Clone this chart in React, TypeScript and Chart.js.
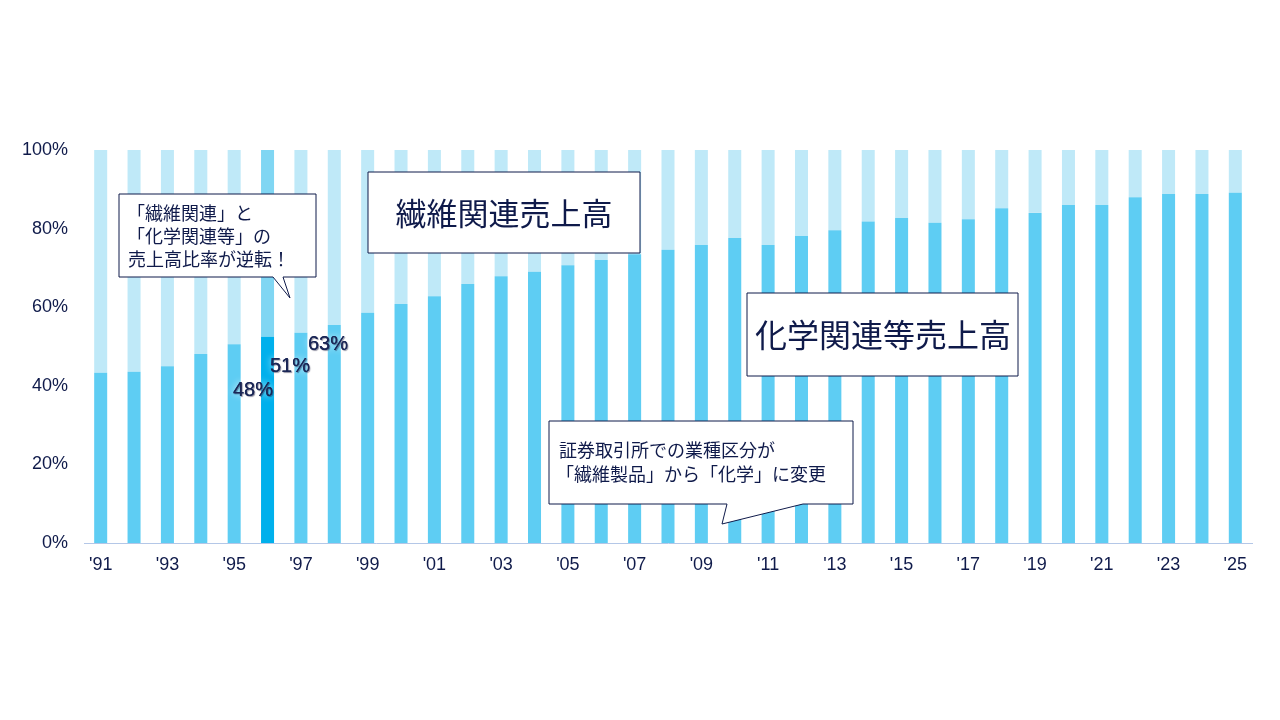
import React, { useEffect, useRef } from 'react';
import Chart from 'chart.js/auto';

const years = [
  "'91", "'92", "'93", "'94", "'95", "'96", "'97", "'98", "'99", "'00",
  "'01", "'02", "'03", "'04", "'05", "'06", "'07", "'08", "'09", "'10",
  "'11", "'12", "'13", "'14", "'15", "'16", "'17", "'18", "'19", "'20",
  "'21", "'22", "'23", "'24", "'25",
];

// 化学関連等売上高 share (%)
const chemShare = [
  43.3, 43.6, 45.0, 48.1, 50.6, 52.5, 53.5, 55.5, 58.6, 60.8,
  62.8, 65.9, 67.9, 69.0, 70.7, 72.0, 73.5, 74.6, 75.8, 77.6,
  75.8, 78.1, 79.6, 81.8, 82.7, 81.5, 82.4, 85.2, 84.0, 86.0,
  86.0, 88.0, 88.8, 88.8, 89.1,
];

// 繊維関連売上高 share (%)
const fiberShare = [
  56.7, 56.4, 55.0, 51.9, 49.4, 47.5, 46.5, 44.5, 41.4, 39.2,
  37.2, 34.1, 32.1, 31.0, 29.3, 28.0, 26.5, 25.4, 24.2, 22.4,
  24.2, 21.9, 20.4, 18.2, 17.3, 18.5, 17.6, 14.8, 16.0, 14.0,
  14.0, 12.0, 11.2, 11.2, 10.9,
];

const yTicks = [0, 20, 40, 60, 80, 100];
const pctLabels = ['48%', '51%', '63%'];
const highlightYear = "'96";

const NAVY = '#0f1a4a';
const JP = '"Noto Sans CJK JP", "Noto Sans", sans-serif';
const LATIN = '"Liberation Sans", Arial, sans-serif';

const drawBox = (ctx: CanvasRenderingContext2D, x: number, y: number, w: number, h: number, tail?: number[]) => {
  ctx.save();
  ctx.beginPath();
  if (tail) {
    // tail on bottom edge: [baseLeft, baseRight, tipX, tipY]
    ctx.moveTo(x, y);
    ctx.lineTo(x + w, y);
    ctx.lineTo(x + w, y + h);
    ctx.lineTo(tail[1], y + h);
    ctx.lineTo(tail[2], tail[3]);
    ctx.lineTo(tail[0], y + h);
    ctx.lineTo(x, y + h);
    ctx.closePath();
  } else {
    ctx.rect(x, y, w, h);
  }
  ctx.fillStyle = '#ffffff';
  ctx.fill();
  ctx.strokeStyle = NAVY;
  ctx.lineWidth = 1;
  ctx.stroke();
  ctx.restore();
};

const notesPlugin = {
  id: 'notes',
  afterDraw(chart: any) {
    const ctx: CanvasRenderingContext2D = chart.ctx;
    ctx.save();

    // percentage labels with glow
    ctx.font = `20px ${LATIN}`;
    ctx.textAlign = 'center';
    ctx.textBaseline = 'middle';
    const spots = [[253, 390], [290, 366], [328, 344]];
    pctLabels.forEach((t, i) => {
      ctx.save();
      ctx.shadowColor = 'rgba(255,255,255,1)';
      ctx.shadowBlur = 7;
      ctx.fillStyle = '#1b2757';
      ctx.fillText(t, spots[i][0], spots[i][1]);
      ctx.shadowColor = 'rgba(0,0,40,0.45)';
      ctx.shadowBlur = 1;
      ctx.shadowOffsetX = 1;
      ctx.shadowOffsetY = 1;
      ctx.fillText(t, spots[i][0], spots[i][1]);
      ctx.restore();
    });

    // series name boxes
    drawBox(ctx, 368, 172, 272, 81);
    drawBox(ctx, 747, 293, 271, 83);
    ctx.fillStyle = NAVY;
    ctx.font = `31px ${JP}`;
    ctx.fillText('繊維関連売上高', 504, 213);
    ctx.font = `32px ${JP}`;
    ctx.fillText('化学関連等売上高', 883, 335);

    // callout 1
    drawBox(ctx, 119, 194, 197, 83, [273, 283, 290, 298]);
    ctx.textAlign = 'left';
    ctx.font = `18px ${JP}`;
    ctx.fillText('「繊維関連」と', 127, 213);
    ctx.fillText('「化学関連等」の', 127, 236);
    ctx.fillText('売上高比率が逆転！', 128, 259);

    // callout 2
    drawBox(ctx, 549, 421, 304, 83, [727, 803, 722, 524]);
    ctx.fillText('証券取引所での業種区分が', 559, 450);
    ctx.fillText('「繊維製品」から「化学」に変更', 556, 474);

    ctx.restore();
  },
};

const App: React.FC = () => {
  const chartRef = useRef<HTMLCanvasElement | null>(null);

  useEffect(() => {
    if (!chartRef.current) return;
    const ctx = chartRef.current.getContext('2d');
    if (!ctx) return;

    const hi = years.indexOf(highlightYear);

    const myChart = new Chart(ctx, {
      type: 'bar',
      data: {
        labels: years,
        datasets: [
          {
            label: '化学関連等売上高',
            data: chemShare,
            backgroundColor: years.map((_, i) => (i === hi ? '#00b0ec' : '#5ecdf3')),
            barPercentage: 0.39,
            categoryPercentage: 1,
          },
          {
            label: '繊維関連売上高',
            data: fiberShare,
            backgroundColor: years.map((_, i) => (i === hi ? '#80d6f3' : '#bfe9f8')),
            barPercentage: 0.39,
            categoryPercentage: 1,
          },
        ],
      },
      options: {
        animation: false,
        responsive: true,
        maintainAspectRatio: false,
        layout: { padding: { top: 150, right: 28, bottom: 137, left: 0 } },
        plugins: {
          legend: { display: false },
          tooltip: { enabled: false },
        },
        scales: {
          x: {
            stacked: true,
            grid: { display: false },
            border: { display: true, color: '#b4c7e7', width: 1 },
            afterFit: (s: any) => { s.height = 40; },
            ticks: {
              autoSkip: false,
              maxRotation: 0,
              padding: 3,
              color: NAVY,
              font: { family: LATIN, size: 18 },
              callback: (_v: any, i: number) => (i % 2 === 0 ? years[i] : ''),
            },
          },
          y: {
            stacked: true,
            min: 0,
            max: 100,
            grid: { display: false },
            border: { display: false },
            afterFit: (s: any) => { s.width = 84; },
            afterBuildTicks: (s: any) => { s.ticks = yTicks.map((v) => ({ value: v })); },
            ticks: {
              padding: 8,
              color: NAVY,
              font: { family: LATIN, size: 18 },
              callback: (v: any) => `${v}%`,
            },
          },
        },
      },
      plugins: [notesPlugin],
    });

    return () => {
      myChart.destroy();
    };
  }, []);

  return (
    <div style={{ position: 'fixed', left: 0, top: 0, width: 1280, height: 720, background: '#fff' }}>
      <canvas ref={chartRef} />
    </div>
  );
};

export default App;
